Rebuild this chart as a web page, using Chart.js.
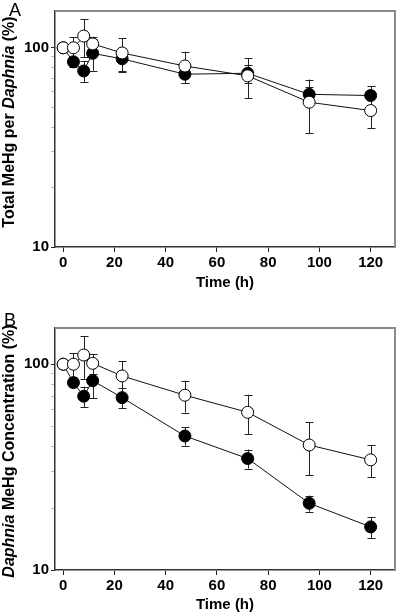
<!DOCTYPE html>
<html>
<head>
<meta charset="utf-8">
<script src="https://cdn.jsdelivr.net/npm/chart.js@4.4.1/dist/chart.umd.min.js"></script>
<style>
  body { margin: 0; background: #fff; width: 402px; height: 614px; position: relative; overflow: hidden;
         font-family: "Liberation Sans", Arial, sans-serif; }
  .panel { position: absolute; left: 0; width: 402px; }
  .tag { position: absolute; font-size: 18px; color: #000; line-height: 1; }
</style>
</head>
<body>
<div class="panel" style="top:0;height:300px"><canvas id="chartA" width="402" height="300"></canvas></div>
<div class="panel" style="top:300px;height:314px"><canvas id="chartB" width="402" height="314"></canvas></div>
<div class="tag" style="left:9px;top:1px">A</div>
<div class="tag" style="left:4px;top:311px">B</div>
<script>
// sampling times (h)
var times = [0, 4, 8, 11.5, 23, 47.5, 72, 96, 120];

// panel A: total MeHg per Daphnia (%)
var totalOpen = [100, 100, 114.5, 104.6, 94.2, 81, 72.3, 53.3, 48.4];
var totalOpenSd = [0, 13, 25, 9, 17.7, 14.6, 16.5, 16, 8.9];
var totalFilled = [100, 85, 76.5, 93.8, 88, 73.7, 74.5, 58.4, 57.6];
var totalFilledSd = [0, 4.5, 9.4, 17, 12, 7.1, 7.8, 5, 6.4];

// panel B: Daphnia MeHg concentration (%)
var concOpen = [100, 100, 110.9, 101, 87.7, 70.7, 58.4, 40.5, 34.3];
var concOpenSd = [0, 13, 26, 11, 16, 12.5, 12.7, 11.7, 6];
var concFilled = [100, 81.4, 69.9, 83.2, 68.8, 44.8, 34.8, 21.1, 16.2];
var concFilledSd = [0, 4, 8, 15, 7.5, 4.6, 3.7, 1.9, 1.9];

var xTicks = [0, 20, 40, 60, 80, 100, 120];
var yTicks = [10, 20, 30, 40, 50, 60, 70, 80, 90, 100];
var yLabelled = [10, 100];

Chart.defaults.font.family = '"Liberation Sans", Arial, sans-serif';
Chart.defaults.color = '#000';

function pts(ys) {
  return times.map(function (t, i) { return { x: t, y: ys[i] }; });
}

// error bars, drawn under the markers
var errorBars = {
  id: 'errorBars',
  beforeDatasetsDraw: function (chart) {
    var ctx = chart.ctx, xs = chart.scales.x, ys = chart.scales.y;
    ctx.save();
    ctx.strokeStyle = '#222';
    ctx.lineWidth = 1;
    chart.data.datasets.forEach(function (ds) {
      if (!ds.sd) return;
      ds.data.forEach(function (p, i) {
        var sd = ds.sd[i];
        if (!sd) return;
        var x = Math.round(xs.getPixelForValue(p.x)) + 0.5;
        var top = ys.getPixelForValue(p.y + sd);
        var bot = ys.getPixelForValue(p.y - sd);
        ctx.beginPath();
        ctx.moveTo(x, top); ctx.lineTo(x, bot);
        ctx.moveTo(x - 4, Math.round(top) + 0.5); ctx.lineTo(x + 4, Math.round(top) + 0.5);
        ctx.moveTo(x - 4, Math.round(bot) + 0.5); ctx.lineTo(x + 4, Math.round(bot) + 0.5);
        ctx.stroke();
      });
    });
    ctx.restore();
  }
};

// grey top/right frame and the rotated y title with italic genus name
var frameAndTitle = {
  id: 'frameAndTitle',
  afterDraw: function (chart, args, opts) {
    var ctx = chart.ctx, a = chart.chartArea;
    ctx.save();
    ctx.strokeStyle = '#8a8a8a';
    ctx.lineWidth = 2;
    ctx.beginPath();
    ctx.moveTo(a.left, a.top);
    ctx.lineTo(a.right, a.top);
    ctx.lineTo(a.right, a.bottom);
    ctx.stroke();

    var parts = opts.parts;
    var fonts = parts.map(function (p) {
      return (p[1] ? 'italic ' : '') + 'bold 16px "Liberation Sans", Arial, sans-serif';
    });
    var total = 0;
    var widths = parts.map(function (p, i) {
      ctx.font = fonts[i];
      var w = ctx.measureText(p[0]).width;
      total += w;
      return w;
    });
    ctx.translate(opts.x, opts.y);
    ctx.rotate(-Math.PI / 2);
    ctx.fillStyle = '#000';
    ctx.textBaseline = 'middle';
    ctx.textAlign = 'left';
    var pos = -total / 2;
    parts.forEach(function (p, i) {
      ctx.font = fonts[i];
      ctx.fillText(p[0], pos, 0);
      pos += widths[i];
    });
    ctx.restore();
  }
};

function makeChart(id, open, openSd, filled, filledSd, cfg) {
  return new Chart(document.getElementById(id), {
    type: 'line',
    data: {
      datasets: [{
        data: pts(open),
        sd: openSd,
        borderColor: '#111',
        borderWidth: 1,
        pointRadius: 6,
        pointBorderWidth: 1,
        pointBackgroundColor: '#fff',
        pointBorderColor: '#000',
        tension: 0
      }, {
        data: pts(filled),
        sd: filledSd,
        borderColor: '#111',
        borderWidth: 1,
        pointRadius: 6,
        pointBorderWidth: 1,
        pointBackgroundColor: '#000',
        pointBorderColor: '#000',
        tension: 0
      }]
    },
    options: {
      responsive: false,
      animation: false,
      layout: { padding: { top: cfg.padTop, right: 3, left: 0, bottom: 0 } },
      plugins: {
        legend: { display: false },
        tooltip: { enabled: false },
        frameAndTitle: { parts: cfg.titleParts, x: 10, y: cfg.titleY }
      },
      scales: {
        x: {
          type: 'linear',
          min: -3.2,
          max: 129.5,
          afterBuildTicks: function (s) { s.ticks = xTicks.map(function (v) { return { value: v }; }); },
          afterFit: function (s) { s.height = cfg.xHeight; },
          ticks: { font: { size: 15, weight: 'bold' }, color: '#000', padding: 2, autoSkip: false, maxRotation: 0 },
          grid: { drawOnChartArea: false, tickLength: 5, tickColor: '#222' },
          border: { color: '#333', width: 1.5 },
          title: {
            display: true, text: 'Time (h)', color: '#000',
            font: { size: 15, weight: 'bold' },
            padding: { top: 0, bottom: cfg.titlePad }
          }
        },
        y: {
          type: 'logarithmic',
          min: 10,
          max: cfg.yMax,
          afterBuildTicks: function (s) {
            s.ticks = yTicks.map(function (v) { return { value: v, major: yLabelled.indexOf(v) >= 0 }; });
          },
          afterFit: function (s) { s.width = 55; },
          ticks: {
            font: { size: 15, weight: 'bold' }, color: '#000', padding: 2, autoSkip: false,
            callback: function (v) { return yLabelled.indexOf(v) >= 0 ? String(v) : ''; }
          },
          grid: {
            drawOnChartArea: false, tickLength: 4,
            tickColor: function (c) { return c.tick && c.tick.major ? '#222' : '#bbb'; }
          },
          border: { color: '#333', width: 1.5 }
        }
      }
    },
    plugins: [errorBars, frameAndTitle]
  });
}

makeChart('chartA', totalOpen, totalOpenSd, totalFilled, totalFilledSd, {
  padTop: 5, xHeight: 53, titlePad: 8, yMax: 153,
  titleY: 122,
  titleParts: [['Total MeHg per ', false], ['Daphnia', true], [' (%)', false]]
});

makeChart('chartB', concOpen, concOpenSd, concFilled, concFilledSd, {
  padTop: 28, xHeight: 44, titlePad: 0, yMax: 150,
  titleY: 151,
  titleParts: [['Daphnia', true], [' MeHg Concentration (%)', false]]
});
</script>
</body>
</html>
